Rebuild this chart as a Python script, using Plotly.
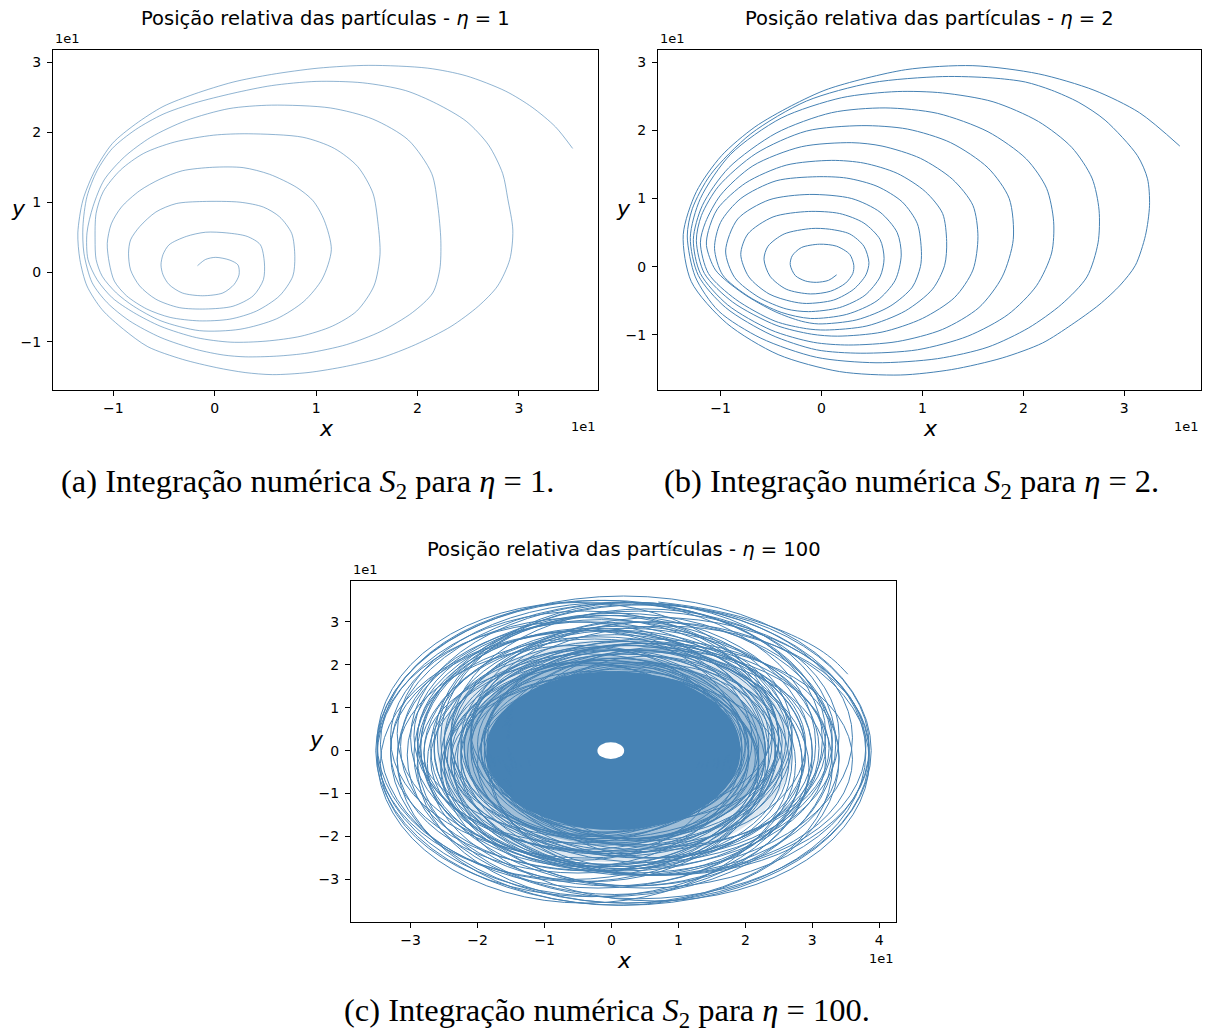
import plotly.graph_objects as go

W, H = 1214, 1034
LINE = "#4682b4"

# ---- eta = 1 : relative position (x, y), counter-clockwise, spiralling inward
eta1_xy = [
    (35.3, 17.7), (33.6, 20.8), (31.3, 23.6), (28.7, 25.9), (24.8, 28.1), (21.0, 29.2),
    (15.2, 29.6), (10.2, 29.2), (5.6, 28.3), (1.8, 27.2), (-2.0, 25.5), (-5.1, 23.7),
    (-7.8, 21.2), (-10.1, 18.4), (-11.8, 14.6), (-13.0, 10.3), (-13.5, 5.6), (-13.3, 1.8),
    (-12.6, -2.0), (-11.1, -5.4), (-9.0, -8.2), (-6.6, -10.7), (-3.2, -12.5), (0.2, -13.7),
    (3.0, -14.4), (5.7, -14.7), (9.2, -14.4), (13.0, -13.5), (16.4, -12.3), (19.8, -10.4),
    (23.3, -7.8), (26.0, -4.9), (27.9, -2.0), (29.1, 1.8), (29.4, 6.0),
    (28.9, 10.5), (28.4, 14.1), (27.0, 18.2), (24.8, 21.6), (21.9, 24.1), (18.8, 26.0),
    (14.6, 27.1), (10.0, 27.3), (5.6, 26.7), (1.8, 25.6), (-2.0, 24.2), (-5.1, 22.6),
    (-7.8, 20.4), (-10.1, 17.7), (-11.6, 14.5), (-12.6, 10.8), (-13.0, 6.5), (-12.9, 2.7),
    (-12.1, -1.5), (-10.6, -4.4), (-8.4, -7.0), (-5.3, -9.4), (-1.8, -11.1), (0.9, -11.9),
    (3.0, -12.15), (6.1, -12.05), (9.2, -11.6), (13.0, -10.4), (16.4, -8.5), (19.5, -5.8),
    (21.5, -3.0), (22.2, 0.4), (22.3, 4.5),
    (22.0, 9.5), (21.4, 14.1), (19.1, 18.9), (15.6, 21.9), (11.4, 23.5), (5.6, 23.9),
    (1.4, 23.4), (-2.8, 21.7), (-6.3, 19.3), (-8.9, 16.5), (-10.9, 13.2), (-12.0, 9.4),
    (-12.6, 5.6), (-12.5, 1.8), (-11.6, -1.1), (-10.1, -3.7), (-8.0, -5.8), (-5.3, -7.8),
    (-1.8, -9.4), (1.6, -10.05), (5.05, -9.9), (8.5, -9.2), (11.6, -7.75), (14.0, -5.6),
    (15.7, -2.0), (16.3, 2.5),
    (16.1, 7.0), (15.6, 11.3), (14.1, 15.1), (11.8, 17.7), (8.7, 19.3), (3.3, 19.8),
    (-0.1, 19.6), (-4.0, 18.6), (-7.0, 17.0), (-9.3, 14.6), (-11.0, 11.5), (-11.7, 8.4),
    (-11.8, 4.6), (-11.7, 1.8), (-11.1, -0.6), (-9.7, -3.0), (-8.0, -4.9), (-5.3, -7.0),
    (-1.5, -8.4), (2.5, -8.2), (6.1, -6.7), (8.8, -4.2), (10.6, -1.0), (11.5, 3.2),
    (10.8, 7.4), (9.7, 10.2), (8.1, 12.1), (5.4, 14.0), (2.8, 14.95), (-0.2, 15.0),
    (-3.2, 14.5), (-5.4, 13.3), (-7.4, 11.65), (-9.2, 9.3), (-10.2, 6.9), (-10.6, 4.1),
    (-10.4, 1.3), (-9.9, -1.3), (-8.7, -3.4), (-6.7, -5.3), (-4.4, -6.5), (-1.5, -7.0),
    (1.5, -6.75), (4.1, -5.6), (6.4, -3.4), (7.7, -0.6), (7.9, 2.2),
    (7.6, 5.5), (6.4, 7.9), (4.8, 9.3), (2.5, 10.0), (-1.2, 10.1), (-3.8, 9.8),
    (-5.8, 8.6), (-7.4, 6.5), (-8.3, 4.6), (-8.5, 2.7), (-8.3, 0.3), (-7.4, -2.0),
    (-5.8, -3.9), (-3.5, -5.1), (-0.9, -5.3), (1.8, -4.9), (3.8, -3.4), (4.8, -1.1),
    (4.9, 1.3),
    (4.5, 3.9), (3.2, 5.1), (1.2, 5.6), (-0.9, 5.7), (-2.8, 5.1), (-4.5, 3.9),
    (-5.1, 2.5), (-5.3, 1.0), (-5.1, -0.4), (-4.5, -1.8), (-3.2, -3.0), (-1.2, -3.4),
    (0.8, -3.0), (1.9, -1.8), (2.4, -0.4), (2.3, 1.0), (1.5, 1.7), (0.1, 2.1),
    (-0.9, 1.8), (-1.7, 0.9),
]

# ---- eta = 2 : relative position (x, y)
eta2_xy = [
    (35.5, 17.7), (31.5, 22.6), (27.0, 25.9), (21.5, 28.3), (15.0, 29.5),
    (8.3, 28.9), (0.7, 26.1), (-3.0, 23.6), (-6.6, 20.5), (-9.9, 16.3), (-12.4, 11.0), (-13.7, 4.7),
    (-12.9, -2.2), (-9.4, -8.3), (-4.3, -12.9), (1.8, -15.4), (7.8, -15.9),
    (12.9, -15.1), (17.9, -13.4), (21.9, -11.2), (24.8, -8.5), (27.5, -5.6), (29.6, -2.7),
    (31.1, 0.2), (32.1, 4.6), (32.5, 9.0),
    (32.3, 12.9), (31.3, 16.3), (28.1, 21.5), (25.5, 24.1), (22.8, 25.9), (20.2, 27.1),
    (16.9, 27.7), (12.0, 27.9),
    (5.0, 27.0), (-1.5, 24.3), (-7.0, 19.5), (-11.0, 13.5), (-12.8, 8.5), (-13.3, 4.5),
    (-12.5, -1.5), (-10.2, -6.5), (-6.0, -10.5), (-0.5, -13.3), (5.4, -14.1),
    (11.5, -13.5), (16.5, -11.8), (20.5, -9.0), (23.8, -5.5), (26.3, -1.5), (27.4, 3.5), (27.5, 8.3),
    (26.8, 13.0), (24.8, 17.5), (21.5, 21.3), (17.0, 24.2), (12.0, 25.5), (7.5, 25.7),
    (2.0, 24.8), (-4.0, 21.8), (-9.0, 16.5), (-12.0, 10.0), (-13.0, 4.3),
    (-12.2, -1.3), (-9.5, -6.0), (-5.0, -10.0), (-0.5, -12.2), (3.9, -12.7),
    (9.5, -12.2), (14.5, -10.2), (18.5, -7.0), (21.3, -2.8), (22.8, 2.0), (23.0, 6.6),
    (22.3, 11.5), (20.3, 15.8), (16.5, 19.8), (11.5, 22.5), (6.3, 23.3),
    (1.0, 22.6), (-4.5, 19.6), (-9.2, 14.5), (-11.8, 9.0), (-12.7, 4.0),
    (-12.0, -1.0), (-9.3, -5.6), (-5.0, -9.3), (-0.8, -11.1), (2.7, -11.5),
    (7.5, -11.0), (12.0, -9.2), (15.6, -6.0), (17.9, -1.5), (19.0, 4.0),
    (18.6, 10.0), (16.5, 14.5), (12.8, 18.2), (8.5, 20.2), (4.0, 20.7),
    (-1.5, 19.9), (-6.5, 16.6), (-10.2, 11.8), (-11.9, 7.5), (-12.4, 3.8),
    (-11.6, -1.0), (-8.8, -5.2), (-4.5, -8.6), (-1.0, -9.9), (1.6, -10.2),
    (6.0, -9.6), (10.0, -7.6), (13.2, -4.5), (15.0, -0.5), (15.5, 4.4),
    (15.0, 9.0), (13.0, 12.8), (9.8, 15.9), (6.0, 17.7), (3.0, 18.2),
    (-2.0, 17.6), (-6.8, 14.8), (-10.0, 10.5), (-11.5, 6.5), (-12.0, 3.5),
    (-11.2, -1.0), (-8.5, -4.8), (-4.6, -8.0), (-1.5, -9.1), (0.4, -9.3),
    (4.5, -8.7), (8.3, -6.5), (11.0, -3.3), (12.2, 0.2), (12.4, 3.7),
    (12.0, 7.8), (10.3, 11.0), (7.5, 13.7), (4.2, 15.2), (1.0, 15.6),
    (-3.5, 14.9), (-7.5, 12.3), (-10.3, 8.5), (-11.2, 5.3), (-11.4, 3.1),
    (-10.5, -0.5), (-7.8, -3.9), (-4.6, -6.6), (-2.0, -8.0), (-0.3, -8.4),
    (3.5, -7.8), (6.8, -5.8), (9.0, -3.0), (9.8, 0.0), (9.9, 2.2),
    (9.5, 6.3), (8.0, 9.5), (5.5, 11.8), (2.5, 13.0), (-0.5, 13.2),
    (-4.5, 12.6), (-8.0, 10.0), (-10.0, 6.5), (-10.6, 2.7),
    (-9.8, -1.2), (-7.2, -4.4), (-4.0, -6.7), (-1.1, -7.6),
    (2.5, -7.0), (5.5, -5.0), (7.3, -2.0), (7.9, 1.7),
    (7.5, 5.0), (5.8, 8.0), (3.0, 10.0), (-1.2, 10.6),
    (-5.2, 9.8), (-8.3, 7.0), (-9.5, 2.3),
    (-8.6, -1.6), (-6.2, -4.5), (-3.5, -6.2), (-1.3, -6.6),
    (1.8, -6.0), (4.3, -4.2), (5.8, -1.5), (6.2, 1.2),
    (5.8, 4.0), (4.2, 6.4), (1.8, 7.8), (-1.3, 8.1),
    (-4.8, 7.3), (-7.3, 4.8), (-8.0, 1.8),
    (-7.2, -1.5), (-5.2, -4.0), (-3.0, -5.1), (-1.5, -5.4),
    (1.2, -4.9), (3.2, -3.3), (4.4, -1.2), (4.7, 0.6),
    (4.2, 3.0), (2.8, 4.8), (0.8, 5.5), (-1.0, 5.6),
    (-3.7, 4.8), (-5.3, 3.0), (-5.7, 1.1),
    (-5.1, -1.4), (-3.5, -3.3), (-1.1, -4.0),
    (0.9, -3.6), (2.4, -2.4), (3.1, -1.0), (3.2, 0.2),
    (2.8, 1.8), (1.5, 3.0), (-0.2, 3.3), (-2.0, 2.8), (-2.9, 1.6), (-3.1, 0.3),
    (-2.6, -1.3), (-1.6, -2.1), (-0.5, -2.3), (0.7, -2.0), (1.5, -1.2),
]

# ---- eta = 100 : opening arc of the orbit
eta100_arc = [
    (35.3, 17.8), (33.4, 20.8), (31.0, 23.6), (27.8, 26.3), (24.0, 28.8),
    (19.0, 31.3), (13.0, 33.3), (7.0, 34.6),
]
# precessing loops of the eta = 100 orbit: (centre x, centre y, half-width, half-height)
eta100_loops = [
    (1.8, 0.0, 37.0, 36.0), (2.5, -0.5, 35.5, 35.0), (-1.0, 0.5, 34.0, 34.5),
    (5.0, 1.0, 33.5, 33.0), (-4.0, -1.5, 31.0, 34.0), (3.0, 3.0, 33.0, 31.5),
    (6.5, -2.5, 32.0, 32.5), (-5.0, 2.0, 30.0, 32.5), (2.0, -3.5, 31.0, 32.0),
    (0.0, 4.0, 32.0, 30.5), (7.0, 1.0, 31.0, 30.0), (-3.0, -3.0, 31.5, 31.0),
    (4.0, -1.0, 34.5, 33.5), (-2.0, 1.5, 32.5, 33.5), (8.0, 0.0, 30.5, 29.0),
    (1.0, -2.0, 33.0, 34.0), (-6.0, 0.0, 29.0, 30.0), (3.5, 1.5, 30.0, 33.0),
    (6.0, -2.0, 30.0, 27.0), (-2.0, 0.0, 31.0, 28.0), (3.0, 2.5, 28.5, 31.5),
    (0.5, -1.0, 29.5, 32.5), (-4.0, 3.0, 29.0, 28.0), (5.0, 3.5, 29.0, 29.5),
    (2.0, 0.5, 29.0, 28.5), (-3.5, 1.0, 28.0, 29.0), (5.5, -1.5, 28.5, 27.5),
    (0.0, -3.0, 27.5, 28.5), (-1.5, 3.5, 28.0, 27.0), (6.0, 2.5, 27.0, 27.5),
    (-5.0, -2.0, 27.0, 26.5), (3.0, -4.0, 26.5, 27.5), (1.0, 2.0, 26.0, 26.0),
    (4.0, 1.0, 28.0, 24.5), (-3.0, -1.0, 26.5, 29.5), (6.5, 0.5, 26.0, 23.0),
    (-4.5, 0.5, 24.0, 27.5), (2.5, -2.0, 29.5, 25.5), (-1.0, 2.5, 25.0, 29.0),
    (5.0, -3.0, 23.5, 26.0), (-2.0, 3.0, 27.0, 23.5), (3.0, 4.0, 24.0, 26.0),
    (0.0, -4.5, 25.5, 22.5), (7.0, -0.5, 22.0, 24.5), (-5.5, -0.5, 22.5, 21.0),
    (-2.5, -0.5, 25.5, 26.5), (4.5, 0.0, 25.5, 25.0), (-4.0, 2.5, 25.0, 25.5),
    (2.0, -2.5, 24.5, 25.0), (0.5, 3.0, 24.5, 24.0), (-1.0, -3.5, 24.0, 24.5),
    (5.0, 1.5, 24.0, 23.5), (-3.0, 0.0, 23.5, 23.5), (1.5, -1.0, 23.0, 23.5),
    (1.5, 4.5, 22.5, 20.0), (2.0, -4.5, 20.0, 22.5), (-3.0, 2.0, 19.5, 22.0),
    (4.5, 2.0, 21.0, 18.5), (-1.0, -2.5, 23.0, 19.5), (5.5, 0.5, 19.0, 21.5),
    (-4.5, -2.5, 20.5, 23.0),
    (3.5, 2.0, 22.5, 22.5), (-2.0, -2.0, 22.5, 22.0), (0.0, 1.0, 22.0, 22.5),
    (4.0, -1.5, 21.5, 21.5), (-3.5, 1.5, 21.5, 21.0), (2.5, 3.0, 21.0, 20.5),
    (1.0, -3.0, 21.0, 21.0), (-1.5, 0.5, 20.5, 20.5), (3.0, 0.0, 20.0, 20.5),
    (-2.5, -1.0, 20.0, 19.5), (0.5, 2.0, 19.5, 19.5), (2.0, -1.5, 19.5, 19.0),
    (-1.0, 1.5, 19.0, 19.0), (1.5, 0.5, 18.5, 18.5), (-0.5, -1.0, 18.5, 18.0),
    (2.5, 1.0, 18.0, 17.5), (-2.0, 0.0, 17.5, 18.0), (1.0, -0.5, 17.0, 17.0),
    (3.0, -0.5, 17.5, 20.0), (-2.5, 1.0, 18.5, 16.5), (1.0, 2.5, 16.5, 19.0),
    (0.5, -2.0, 19.0, 16.0), (-1.5, -0.5, 16.0, 18.5), (2.0, 1.5, 17.0, 15.5),
    (-0.5, 0.0, 15.5, 17.0), (3.5, 0.0, 16.0, 17.5), (-3.0, 0.5, 16.5, 15.5),
    (1.0, -1.5, 15.0, 16.0), (0.0, 2.0, 14.5, 15.5),
    (0.0, 1.0, 16.5, 17.0), (1.5, -1.0, 16.0, 16.5),
]
# line density of the orbit inside the tangle: (centre x, centre y, half-width, half-height, coverage)
eta100_density = [
    (0.5, 0.0, 26.5, 26.0, 0.18),
    (0.4, 0.0, 22.5, 22.0, 0.40),
    (0.3, 0.0, 19.0, 18.5, 1.00),
]
# empty region around the origin
eta100_hole = (-0.1, 0.0, 2.0, 1.95)

# tick positions (labels shown in units of 1e1)
ticks_ab = [-10, 0, 10, 20, 30]
ticks_c_x = [-30, -20, -10, 0, 10, 20, 30, 40]
ticks_c_y = [-30, -20, -10, 0, 10, 20, 30]


def px(x):
    return x / W


def py(y):
    return 1 - y / H


def label(v):
    return str(int(round(v / 10))).replace("-", "\u2212")


def axis(domain, rng, tickvals, anchor, standoff):
    return dict(
        domain=domain, range=rng, anchor=anchor,
        tickvals=tickvals, ticktext=[label(v) for v in tickvals],
        showline=True, mirror=True, linecolor="black", linewidth=1,
        ticks="outside", ticklen=5, tickwidth=1, tickcolor="black",
        showgrid=False, zeroline=False, fixedrange=True,
        tickfont=dict(family="DejaVu Sans", size=14, color="black"),
        ticklabelstandoff=standoff,
    )


def ellipse(cx, cy, rx, ry, **style):
    return dict(type="circle", xref="x3", yref="y3",
                x0=cx - rx, x1=cx + rx, y0=cy - ry, y1=cy + ry,
                layer="above", **style)


fig = go.Figure()

fig.add_trace(go.Scatter(
    x=[p[0] for p in eta1_xy], y=[p[1] for p in eta1_xy],
    mode="lines", line=dict(color="rgba(70,130,180,0.6)", width=1, shape="spline", smoothing=0.8),
    xaxis="x", yaxis="y", hoverinfo="skip"))

fig.add_trace(go.Scatter(
    x=[p[0] for p in eta2_xy], y=[p[1] for p in eta2_xy],
    mode="lines", line=dict(color=LINE, width=1, shape="spline", smoothing=0.8),
    xaxis="x2", yaxis="y2", hoverinfo="skip"))

fig.add_trace(go.Scatter(
    x=[p[0] for p in eta100_arc], y=[p[1] for p in eta100_arc],
    mode="lines", line=dict(color=LINE, width=1, shape="spline"),
    xaxis="x3", yaxis="y3", hoverinfo="skip"))

shapes = []
for cx, cy, rx, ry, a in eta100_density:
    shapes.append(ellipse(cx, cy, rx, ry, fillcolor="rgba(70,130,180,%.2f)" % a,
                          line=dict(width=0)))
for loop in eta100_loops:
    shapes.append(ellipse(*loop, fillcolor="rgba(0,0,0,0)", line=dict(color=LINE, width=1)))
shapes.append(ellipse(*eta100_hole, fillcolor="white", line=dict(width=0)))

# axes boxes in pixels
A = dict(l=53, r=598, t=50, b=390)
B = dict(l=658, r=1201, t=50, b=390)
C = dict(l=351, r=896, t=581, b=922)

fig.update_layout(
    width=W, height=H, margin=dict(l=0, r=0, t=0, b=0),
    paper_bgcolor="white", plot_bgcolor="white",
    showlegend=False, hovermode=False,
    xaxis=axis([px(A["l"]), px(A["r"])], [-15.95, 37.8], ticks_ab, "y", 0),
    yaxis=axis([py(A["b"]), py(A["t"])], [-16.9, 31.8], ticks_ab, "x", 3),
    xaxis2=axis([px(B["l"]), px(B["r"])], [-16.2, 37.6], ticks_ab, "y2", 0),
    yaxis2=axis([py(B["b"]), py(B["t"])], [-18.1, 31.8], ticks_ab, "x2", 3),
    xaxis3=axis([px(C["l"]), px(C["r"])], [-38.9, 42.5], ticks_c_x, "y3", 0),
    yaxis3=axis([py(C["b"]), py(C["t"])], [-39.9, 39.5], ticks_c_y, "x3", 3),
    shapes=shapes,
)

ann = []
sans = "DejaVu Sans"


def text(x, y, s, size, family=sans, xanchor="center", yanchor="middle"):
    ann.append(dict(x=px(x), y=py(y), xref="paper", yref="paper", text=s,
                    showarrow=False, xanchor=xanchor, yanchor=yanchor,
                    font=dict(family=family, size=size, color="black")))


for box, eta in ((A, "1"), (B, "2"), (C, "100")):
    cxp = (box["l"] + box["r"]) / 2
    text(cxp, box["t"] - 32, "Posição relativa das partículas - <i>η</i> = " + eta, 19.5)
    text(cxp + 1, box["b"] + 38, "<i>x</i>", 22)
    text(box["l"] - 35, (box["t"] + box["b"]) / 2 - 12, "<i>y</i>", 22)
    text(box["l"], box["t"] - 2, "1e1", 13, xanchor="left", yanchor="bottom")
    text(box["r"], box["b"] + 27, "1e1", 13, xanchor="right", yanchor="top")

serif = "Liberation Serif"
text(307, 483, "(a) Integração numérica <i>S</i><sub>2</sub> para <i>η</i> = 1.", 32.5, serif)
text(911, 483, "(b) Integração numérica <i>S</i><sub>2</sub> para <i>η</i> = 2.", 32.5, serif)
text(607, 1012, "(c) Integração numérica <i>S</i><sub>2</sub> para <i>η</i> = 100.", 32.5, serif)

fig.update_layout(annotations=ann)
fig.write_html("out.html")
